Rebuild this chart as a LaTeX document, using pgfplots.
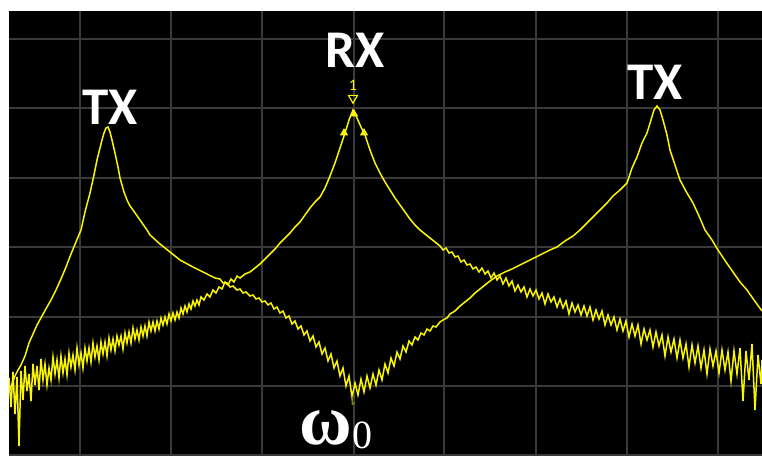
\documentclass[border=0pt]{standalone}
\usepackage{pgfplots}
\pgfplotsset{compat=1.18}
\usepackage{fontspec}
\newfontfamily\labfont{Carlito}
\newfontfamily\serfont{Liberation Serif}
\definecolor{trace}{RGB}{250,245,0}
\definecolor{gridc}{RGB}{58,58,58}
\definecolor{mk}{RGB}{150,140,0}

\begin{document}
\begin{tikzpicture}
% 1 px of the screen shot = 0.5pt
\useasboundingbox (0,0) rectangle (381pt,228pt);
\begin{axis}[
  at={(4.5pt,0pt)}, anchor=south west,
  scale only axis, width=376.5pt, height=222.5pt,
  xmin=9, xmax=762, ymin=0, ymax=445,
  axis background/.style={fill=black},
  axis line style={draw=none},
  xtick={80,171,262,354,444,536,627,718},
  ytick={1,70,139,209,278,348,417},
  xticklabels={}, yticklabels={},
  major tick length=0pt,
  grid=major,
  major grid style={draw=gridc, line width=0.8pt},
]
% RX trace
\addplot[trace, line width=0.75pt] coordinates {
(9,78) (11,49) (13,84) (15,42) (17,79) (19,10) (21,85) (23,56) (25,90) (27,65)
(29,82) (31,55) (33,92) (35,71) (37,90) (39,66) (41,97) (43,76) (45,92) (47,71)
(49,88) (51,76) (53,99) (55,82) (57,96) (59,78) (61,100) (63,83) (65,97) (67,81)
(69,103) (71,89) (73,101) (75,86) (77,108) (79,91) (81,103) (83,88) (85,108) (87,95)
(89,108) (91,94) (93,113) (95,99) (97,110) (99,96) (101,114) (103,102) (105,114) (107,100)
(109,118) (111,106) (113,117) (115,105) (117,120) (119,111) (121,120) (123,107) (125,123) (127,113)
(129,124) (131,113) (133,128) (135,117) (137,126) (139,116) (141,129) (143,120) (145,130) (147,120)
(149,134) (151,125) (153,134) (155,125) (157,135) (159,127) (161,138) (163,131) (165,139) (167,132)
(169,142) (171,135) (173,143) (175,136) (177,144) (179,138) (181,148) (183,142) (185,150) (187,144)
(189,152) (191,147) (193,155) (195,150) (197,156) (199,151) (201,159) (204,156) (207,162) (210,159)
(213,166) (216,163) (219,169) (222,167) (225,174) (228,171) (231,177) (234,174) (237,180) (240,178)
(245,182) (250,184) (255,188) (260,192) (265,197) (270,202) (275,207) (280,213) (285,218) (290,223)
(295,229) (300,234) (305,241) (310,248) (315,254) (320,259) (325,268) (330,280) (335,293) (340,308)
(345,323) (349,336) (353,346)
(357,338) (361,329) (365,321) (370,306) (375,293) (380,283) (385,274) (390,266) (395,258) (400,251)
(405,244) (410,237) (415,231) (420,226) (425,222) (430,218) (435,214) (440,210) (443,206) (446,208)
(449,203) (452,204) (455,199) (458,200) (461,194) (464,196) (467,191) (470,192) (473,187) (476,189)
(479,184) (482,188) (485,182) (488,185) (491,178) (494,183) (497,176) (500,180) (503,172) (506,178)
(509,170) (512,175) (515,165) (518,171) (521,164) (524,169) (527,159) (530,167) (533,160) (536,166)
(539,157) (542,163) (545,152) (548,162) (551,154) (554,159) (557,149) (560,157) (563,148) (566,155)
(569,142) (572,153) (575,144) (578,151) (581,141) (584,150) (587,140) (590,149) (593,136) (596,146)
(599,137) (602,145) (605,131) (608,141) (611,131) (614,139) (617,126) (620,137) (623,125) (626,135)
(629,119) (632,132) (635,120) (638,131) (641,112) (644,127) (647,116) (650,126) (653,109) (656,124)
(659,110) (662,121) (665,100) (668,119) (671,104) (674,117) (677,98) (680,116) (683,98) (686,112)
(689,89) (692,111) (695,93) (698,110) (701,88) (704,106) (707,82) (710,107) (713,90) (716,105)
(719,83) (722,106) (725,86) (728,104) (731,75) (734,105) (737,82) (740,108) (743,55) (746,105)
(749,76) (752,112) (755,46) (758,101) (761,72) (762,96)
};
% TX trace
\addplot[trace, line width=0.75pt] coordinates {
(9,64) (12,72) (15,80) (18,86) (21,91) (25,100) (29,113) (33,122) (37,131) (42,140)
(47,149) (51,156) (56,166) (61,177) (66,189) (71,202) (76,214) (81,226) (85,244) (90,263)
(94,281) (97,296) (100,308) (102,316) (104,323) (106,328) (108,329) (110,324) (112,316) (115,303)
(118,289) (120,278) (124,264) (127,256) (130,250) (133,246) (140,236) (147,226) (150,221) (160,212)
(170,204) (180,196) (193,189) (205,183) (215,178) (220,177) (223,173) (227,173) (230,169) (233,170)
(237,166) (240,167) (243,163) (246,164) (250,160) (253,161) (256,157) (259,158) (262,154) (265,155)
(268,151) (271,153) (274,147) (277,149) (280,143) (283,145) (286,138) (289,140) (292,132) (295,135)
(298,127) (301,130) (304,121) (307,125) (310,115) (313,120) (316,109) (319,114) (322,102) (325,108)
(328,95) (331,102) (334,88) (337,95) (340,80) (343,88) (346,70) (349,80) (352,59) (355,73)
(358,61) (361,77) (364,64) (367,80) (370,68) (373,82) (376,71) (379,86) (382,76) (385,92)
(388,83) (391,98) (394,90) (397,104) (400,97) (403,110) (406,104) (409,115) (412,111) (415,119)
(418,116) (421,123) (424,121) (427,127) (430,125) (433,130) (436,129) (440,134) (443,136) (447,138)
(450,142) (455,145) (460,150) (465,154) (470,158) (475,163) (480,167) (485,171) (490,175) (497,180)
(505,184) (512,187) (520,191) (530,196) (540,201) (550,206) (557,209) (565,215) (573,220) (580,226)
(587,233) (594,240) (600,246) (607,253) (613,260) (620,266) (627,273) (632,288) (637,299) (642,313)
(647,323) (651,336) (654,346) (657,350) (660,346) (663,336) (667,321) (670,306) (675,291) (680,276)
(687,263) (693,253) (699,240) (705,226) (712,216) (718,206) (726,194) (733,184) (740,174) (747,166)
(754,156) (762,145)
};
% markers
\addplot[only marks, mark=triangle, mark size=2.6pt, mark options={draw=trace, rotate=180, line width=0.6pt}] coordinates {(353,358)};
\addplot[only marks, mark=triangle*, mark size=2pt, mark options={draw=trace, fill=trace}] coordinates {(354,342) (344,323) (364,323)};
\node[text=trace, font=\labfont\fontsize{8}{8}\selectfont] at (axis cs:353,371) {1};
\node[text=mk, rotate=180, font=\labfont\fontsize{7}{7}\selectfont] at (axis cs:353,55) {1};
% labels
\node[text=white, font=\labfont\bfseries\fontsize{26.5}{26.5}\selectfont] at (axis cs:110,349) {TX};
\node[text=white, font=\labfont\bfseries\fontsize{26.5}{26.5}\selectfont] at (axis cs:355,406) {RX};
\node[text=white, font=\labfont\bfseries\fontsize{26.5}{26.5}\selectfont] at (axis cs:655,374) {TX};
\node[text=white, anchor=base, inner sep=0pt, font=\serfont\bfseries\fontsize{36}{36}\selectfont] at (axis cs:326,11) {ω};
\node[text=white, anchor=base west, inner sep=0pt, font=\serfont\fontsize{20}{20}\selectfont] at (axis cs:352,7) {0};
\end{axis}
\end{tikzpicture}
\end{document}
